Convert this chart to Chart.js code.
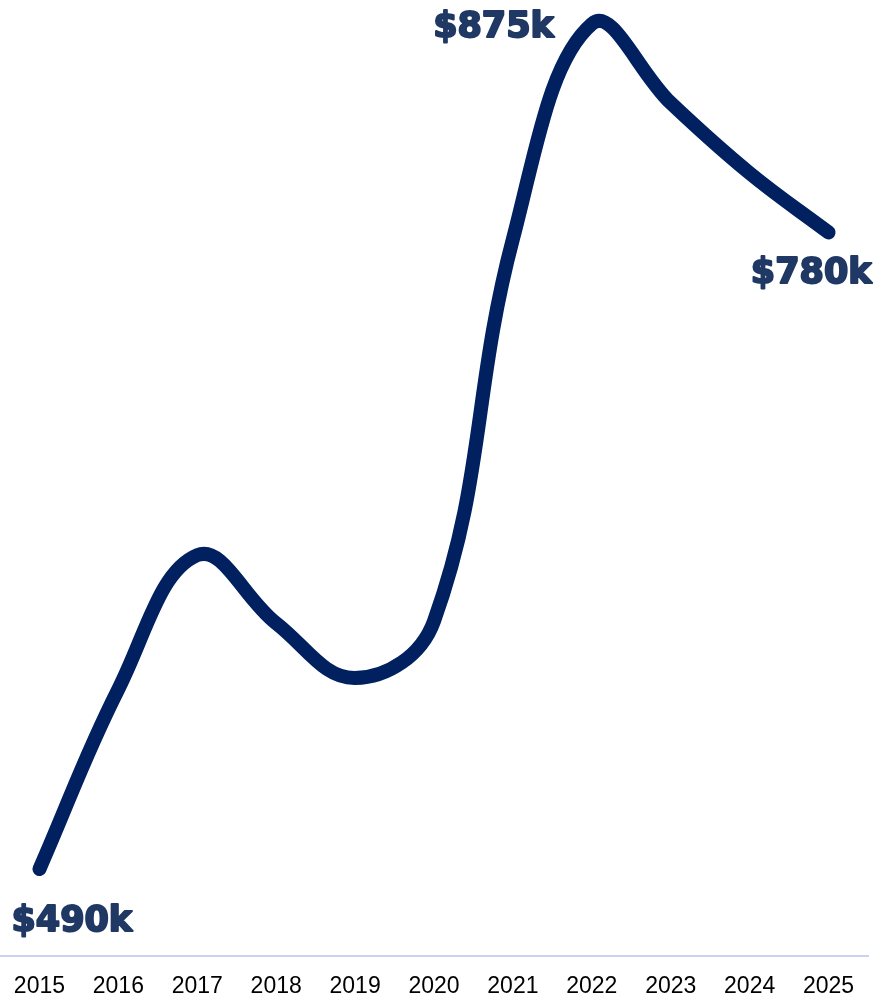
<!DOCTYPE html>
<html lang="en">
  <head>
    <meta charset="utf-8" />
    <title>Price trend</title>
    <style>
      * {
        margin: 0;
        padding: 0;
      }
      body {
        background: #ffffff;
      }
      .chartBox {
        width: 877px;
        height: 998px;
      }
    </style>
  </head>
  <body>
    <div class="chartBox">
      <canvas id="myChart"></canvas>
    </div>

    <script src="https://cdn.jsdelivr.net/npm/chart.js@4.4.1/dist/chart.umd.min.js"></script>

    <script>
      // data block
      const years = ["2015", "2016", "2017", "2018", "2019", "2020", "2021", "2022", "2023", "2024", "2025"];
      const prices = [490, 572, 633, 602, 577, 603, 777, 875, 839, 807, 780];
      const labelledPoints = [0, 7, 10];

      // point labels block
      const pointLabels = {
        id: "pointLabels",
        afterDatasetsDraw(chart) {
          const { ctx } = chart;
          const points = chart.getDatasetMeta(0).data;

          ctx.save();
          ctx.font = "bold 35px 'DejaVu Sans', sans-serif";
          ctx.fillStyle = "#1f3864";
          ctx.strokeStyle = "#1f3864";
          ctx.lineWidth = 2;
          ctx.lineJoin = "round";
          ctx.textBaseline = "middle";

          labelledPoints.forEach((i) => {
            const p = points[i];
            const text = "$" + prices[i] + "k";
            let x, y;
            if (i === 0) {
              ctx.textAlign = "left";
              x = p.x - 28;
              y = p.y + 53;
            } else if (i === labelledPoints[labelledPoints.length - 1]) {
              ctx.textAlign = "right";
              x = p.x + 43;
              y = p.y + 41;
            } else {
              ctx.textAlign = "right";
              x = p.x - 38;
              y = p.y + 4;
            }
            ctx.strokeText(text, x, y);
            ctx.fillText(text, x, y);
          });
          ctx.restore();
        },
      };

      // config block
      const config = {
        type: "line",
        data: {
          labels: years,
          datasets: [
            {
              data: prices,
              borderColor: "#002060",
              borderWidth: 14,
              borderCapStyle: "round",
              borderJoinStyle: "round",
              tension: 0.4,
              pointRadius: 0,
              fill: false,
              clip: false,
            },
          ],
        },
        options: {
          responsive: true,
          maintainAspectRatio: false,
          animation: false,
          layout: {
            padding: { left: 0, right: 9, top: 0, bottom: -4.6 },
          },
          scales: {
            x: {
              offset: true,
              // tick marks are hidden, tickLength only pushes the labels down
              grid: { display: false, drawTicks: true, tickLength: 15 },
              border: { display: true, color: "#c8d3ef", width: 2 },
              ticks: {
                color: "#000000",
                padding: 2,
                font: { family: "'Liberation Sans', Arial, sans-serif", size: 23 },
                maxRotation: 0,
                autoSkip: false,
              },
            },
            y: {
              display: false,
              min: 450.4,
              max: 885.9,
            },
          },
          plugins: {
            legend: { display: false },
            tooltip: { enabled: false },
          },
        },
        plugins: [pointLabels],
      };

      // init render block
      const myChart = new Chart(document.getElementById("myChart"), config);
    </script>
  </body>
</html>
